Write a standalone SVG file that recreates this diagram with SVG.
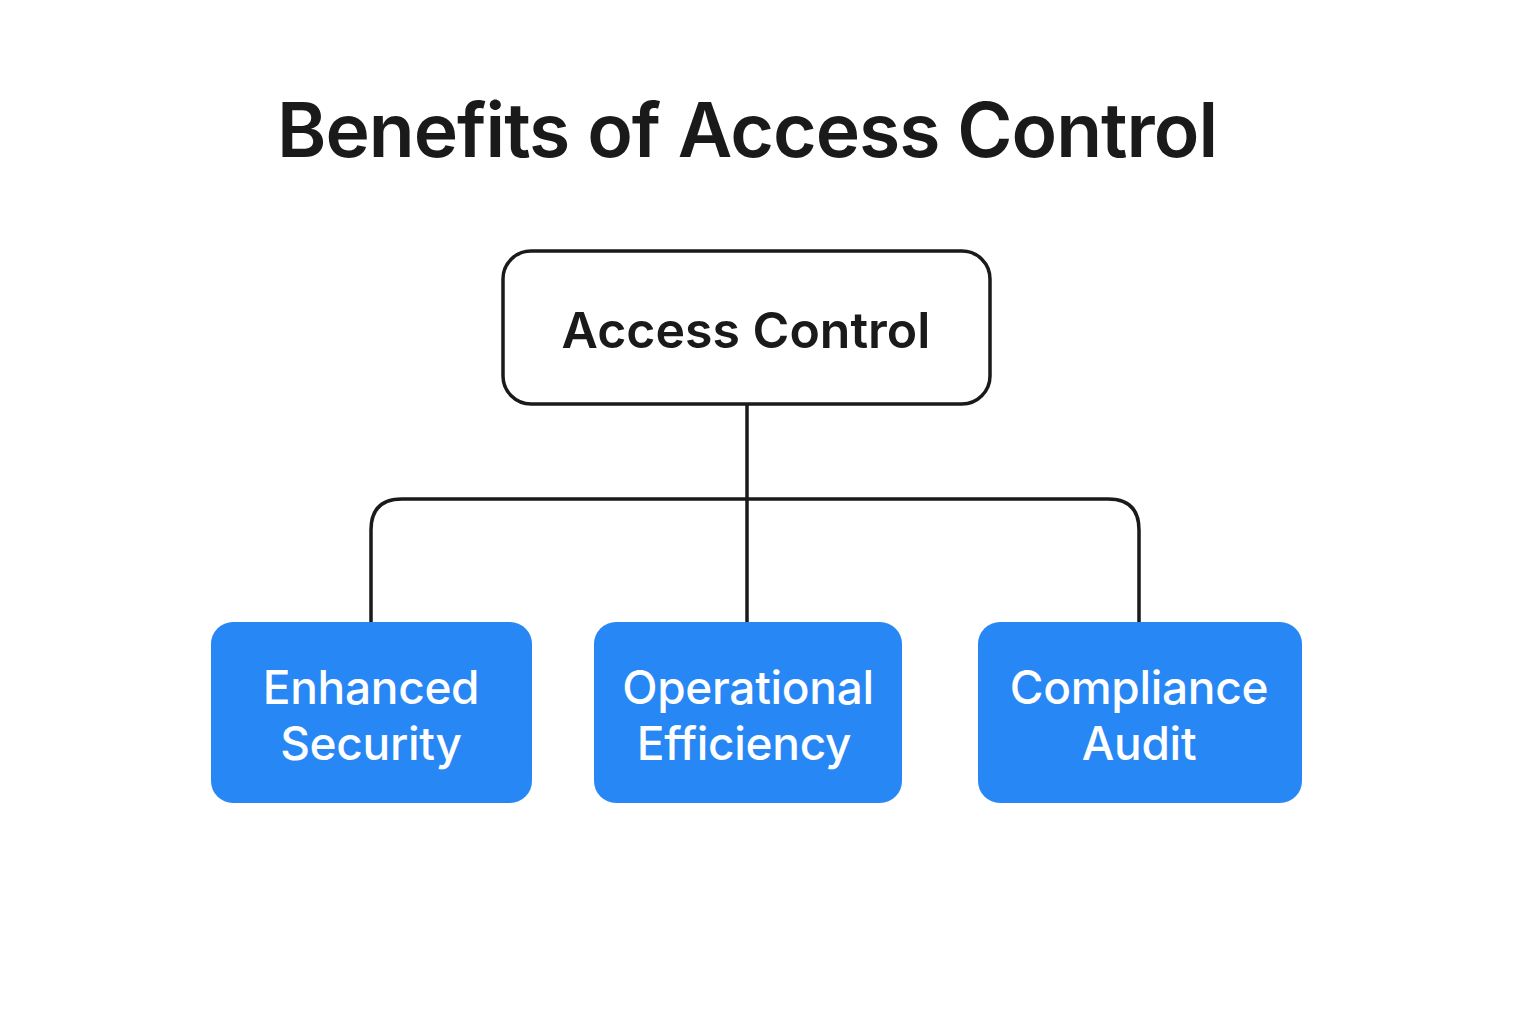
<svg xmlns="http://www.w3.org/2000/svg" width="1536" height="1024" viewBox="0 0 1536 1024">
<style>
.title{font-family:Inter,"Noto Sans","Liberation Sans",sans-serif;font-weight:600;font-size:75px;letter-spacing:-1px;fill:#1a1a1a}
.root-box{fill:#ffffff;stroke:#1a1a1a;stroke-width:3.5}
.root-text{font-family:Inter,"Noto Sans","Liberation Sans",sans-serif;font-weight:600;font-size:50px;fill:#1a1a1a}
.leaf-box{fill:#2787f5}
.leaf-text{font-family:Inter,"Noto Sans","Liberation Sans",sans-serif;font-weight:500;font-size:46px;letter-spacing:-0.3px;fill:#ffffff}
.conn{fill:none;stroke:#1a1a1a;stroke-width:3.5}
</style>
<rect width="1536" height="1024" fill="#ffffff"/>
<text class="title" x="747" y="157" text-anchor="middle">Benefits of Access Control</text>
<g id="connectors">
<path class="conn" d="M747 404 V622"/>
<path class="conn" d="M371 622 V530 Q371 499 402 499 H1108 Q1139 499 1139 530 V622"/>
</g>
<g id="node-access-control">
<rect class="root-box" x="503" y="251" width="487" height="153" rx="28"/>
<text class="root-text" x="746" y="348" text-anchor="middle">Access Control</text>
</g>
<g id="node-enhanced-security">
<rect class="leaf-box" x="211" y="622" width="321" height="181" rx="22"/>
<text class="leaf-text" x="371" y="704" text-anchor="middle">Enhanced</text>
<text class="leaf-text" x="371" y="760" text-anchor="middle">Security</text>
</g>
<g id="node-operational-efficiency">
<rect class="leaf-box" x="594" y="622" width="308" height="181" rx="22"/>
<text class="leaf-text" x="748" y="704" text-anchor="middle">Operational</text>
<text class="leaf-text" x="744" y="760" text-anchor="middle">Efficiency</text>
</g>
<g id="node-compliance-audit">
<rect class="leaf-box" x="978" y="622" width="324" height="181" rx="22"/>
<text class="leaf-text" x="1139" y="704" text-anchor="middle">Compliance</text>
<text class="leaf-text" x="1139" y="760" text-anchor="middle">Audit</text>
</g>
</svg>
